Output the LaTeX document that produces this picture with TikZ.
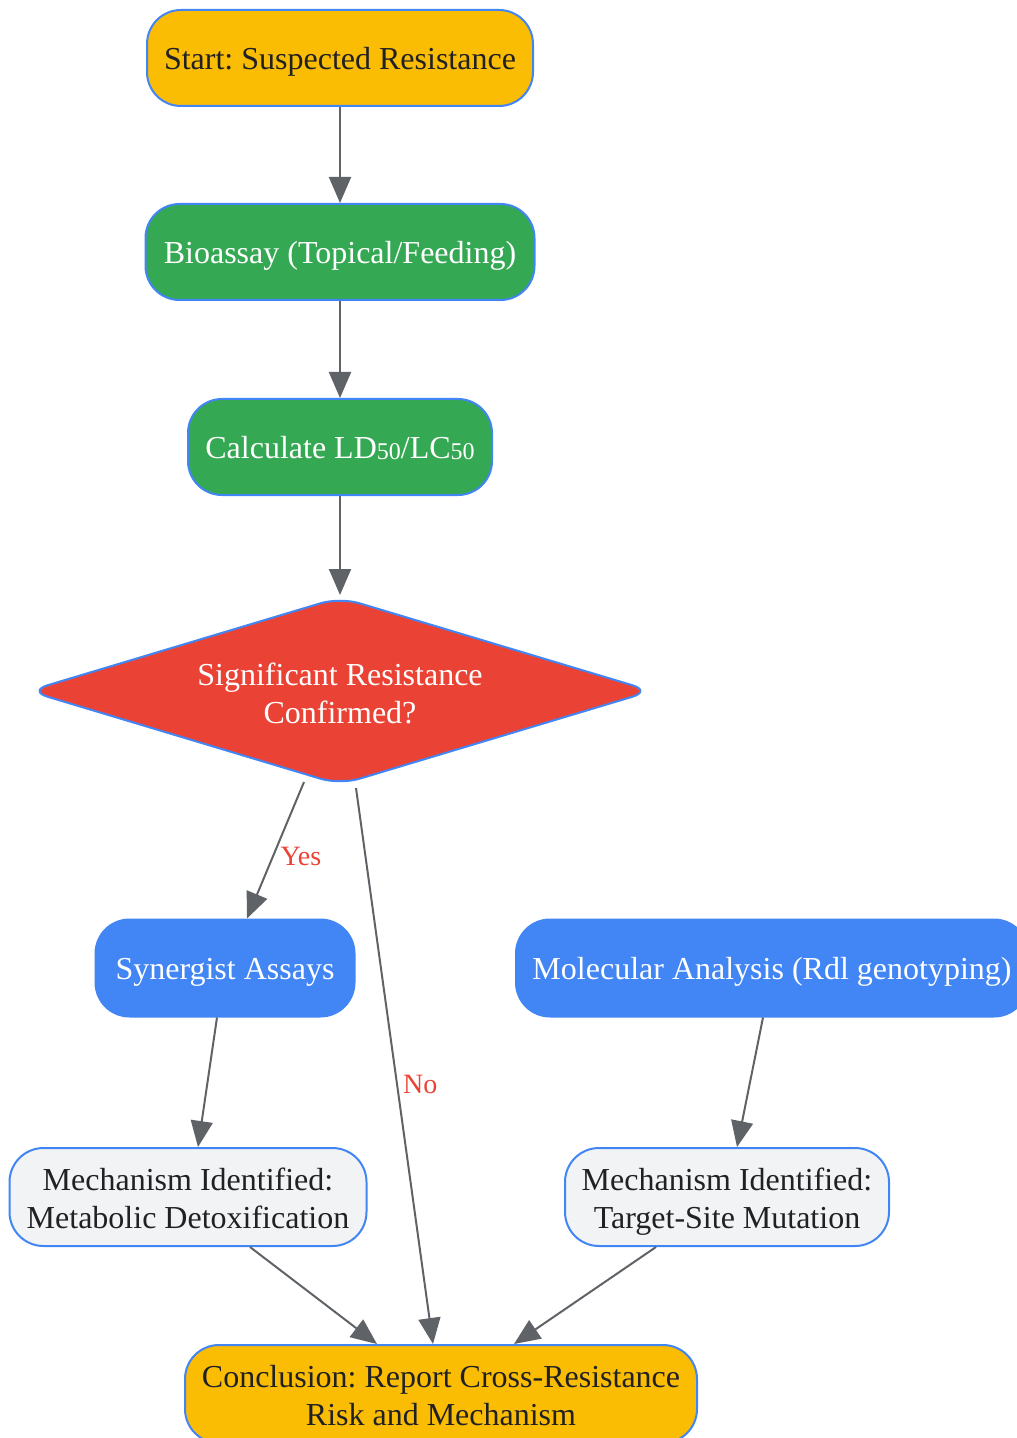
\documentclass[tikz,border=0pt]{standalone}
\usepackage{fontspec}
\setmainfont{Liberation Serif}
\usetikzlibrary{shapes.geometric,arrows.meta,calc}
\definecolor{gyellow}{HTML}{FBBC04}
\definecolor{ggreen}{HTML}{34A853}
\definecolor{gred}{HTML}{EA4335}
\definecolor{gblue}{HTML}{4285F4}
\definecolor{ggrey}{HTML}{F1F3F4}
\definecolor{gtext}{HTML}{202124}
\definecolor{gedge}{HTML}{5F6368}
\frenchspacing
\newcommand{\subdig}[1]{{\fontsize{12}{12}\selectfont\raisebox{-0.6pt}{#1}}}
\newcommand{\dn}[2]{\raisebox{-#1}[\height][\depth]{#2}}
\newcommand{\twoline}[3]{\dn{#1}{\begin{tabular}{@{}c@{}}#2\\#3\end{tabular}}}
\begin{document}
\begin{tikzpicture}[x=0.5pt,y=-0.5pt,
  box/.style={rectangle, rounded corners=17pt, draw=gblue, line width=1pt, inner sep=0pt, align=center, font=\fontsize{16}{19}\selectfont},
  yellowbox/.style={box, fill=gyellow, text=gtext},
  greenbox/.style={box, fill=ggreen, text=white},
  bluebox/.style={box, fill=gblue, text=white},
  greybox/.style={box, fill=ggrey, text=gtext},
  decision/.style={diamond, aspect=3.3, rounded corners=10pt, draw=gblue, line width=1pt, fill=gred, text=white, inner sep=0pt, align=center, font=\fontsize{16}{19}\selectfont},
  arr/.style={draw=gedge, line width=1pt, -{Triangle[length=13pt,width=11pt]}, fill=gedge},
  lbl/.style={text=gred, font=\fontsize{14}{16}\selectfont, inner sep=2pt}
]
\useasboundingbox (0,0) rectangle (1016,1438);

\node[yellowbox, minimum width=193pt, minimum height=48pt] (start) at (340,58) {\dn{2pt}{Start: Suspected Resistance}};
\node[greenbox, minimum width=194.5pt, minimum height=48pt] (bio) at (340,252) {\dn{2pt}{Bioassay (Topical/Feeding)}};
\node[greenbox, minimum width=152pt, minimum height=48pt] (calc) at (340,447) {\dn{0.6pt}{Calculate LD\subdig{50}/LC\subdig{50}}};
\node[decision, minimum width=312pt, minimum height=94pt] (dec) at (340,691) {\twoline{3pt}{Significant Resistance}{Confirmed?}};
\node[bluebox, minimum width=129.5pt, minimum height=48.5pt] (syn) at (225,968) {\dn{2pt}{Synergist Assays}};
\node[bluebox, minimum width=256pt, minimum height=48.5pt] (mol) at (772,968) {\dn{2pt}{Molecular Analysis (Rdl genotyping)}};
\node[greybox, minimum width=178.5pt, minimum height=49pt] (met) at (188,1197) {\twoline{2.5pt}{Mechanism Identified:}{Metabolic Detoxification}};
\node[greybox, minimum width=162pt, minimum height=49pt] (tgt) at (727,1197) {\twoline{2.5pt}{Mechanism Identified:}{Target-Site Mutation}};
\node[yellowbox, minimum width=256pt, minimum height=49pt] (conc) at (441,1394) {\twoline{2.3pt}{Conclusion: Report Cross-Resistance}{Risk and Mechanism}};

\draw[arr] (start.south) -- (bio.north);
\draw[arr] (bio.south) -- (calc.north);
\draw[arr] (calc.south) -- ($(dec.north)+(0,-1)$);
\draw[arr] ($(dec.south)+(-36,-4)$) -- node[lbl, anchor=west, pos=0.5, xshift=0pt, yshift=-3pt] {Yes} ($(syn.north)+(22,0)$);
\draw[arr] ($(dec.south)+(16,2)$) -- node[lbl, anchor=west, pos=0.533, xshift=0.5pt] {No} ($(conc.north)+(-8,0)$);
\draw[arr] ($(syn.south)+(-8,0)$) -- ($(met.north)+(10,0)$);
\draw[arr] ($(mol.south)+(-9,0)$) -- ($(tgt.north)+(10,0)$);
\draw[arr] ($(met.south)+(62,0)$) -- ($(conc.north)+(-64,0)$);
\draw[arr] ($(tgt.south)+(-71,0)$) -- ($(conc.north)+(73,0)$);
\end{tikzpicture}
\end{document}
